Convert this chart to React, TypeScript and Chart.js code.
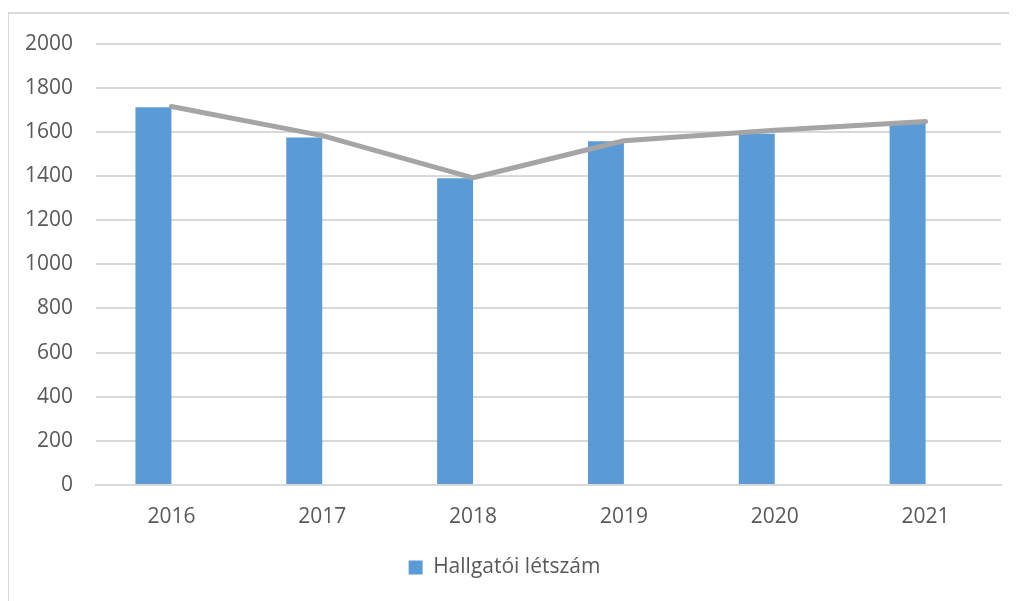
import React, { useEffect, useRef } from "react";
import { Chart, registerables } from "chart.js";

Chart.register(...registerables);

const categories = ["2016", "2017", "2018", "2019", "2020", "2021"];
const barLabel = "Hallgatói létszám";
const barValues = [1712, 1575, 1390, 1557, 1592, 1637];
const lineValues = [1715, 1583, 1392, 1560, 1607, 1647];
const yTicks = [0, 200, 400, 600, 800, 1000, 1200, 1400, 1600, 1800, 2000];

export default function App() {
  const ref = useRef<HTMLCanvasElement | null>(null);

  useEffect(() => {
    if (!ref.current) return;
    const font = { family: "'Open Sans', 'Noto Sans', sans-serif", size: 21 };
    const chart = new Chart(ref.current, {
      type: "bar",
      data: {
        labels: categories,
        datasets: [
          {
            type: "line",
            label: "trend",
            data: lineValues,
            borderColor: "#A5A5A5",
            borderWidth: 5,
            pointRadius: 0,
            borderCapStyle: "round",
            borderJoinStyle: "round",
            tension: 0,
            order: 0,
          } as any,
          {
            type: "bar",
            label: barLabel,
            data: barValues,
            backgroundColor: "#5B9BD5",
            barPercentage: 1,
            categoryPercentage: 0.477,
            order: 1,
          },
          {
            type: "bar",
            label: "__hidden",
            data: categories.map(() => null),
            backgroundColor: "rgba(0,0,0,0)",
            barPercentage: 1,
            categoryPercentage: 0.477,
            order: 2,
          },
        ],
      },
      options: {
        animation: false,
        responsive: false,
        maintainAspectRatio: false,
        layout: { padding: { left: 0, right: 16, top: 34, bottom: 13 } },
        plugins: {
          tooltip: { enabled: false },
          legend: {
            position: "bottom",
            labels: {
              color: "#595959",
              font,
              boxWidth: 14,
              boxHeight: 14,
              padding: 10,
              filter: (item: any) => item.text === barLabel,
            },
          },
        },
        scales: {
          x: {
            grid: { display: false, drawTicks: false },
            border: { display: true, color: "#D9D9D9", width: 2 },
            ticks: { color: "#595959", font, padding: 19 },
            afterFit: (s: any) => {
              s.height = 62;
            },
          },
          y: {
            min: 0,
            max: 2000,
            afterBuildTicks: (s: any) => {
              s.ticks = yTicks.map((v) => ({ value: v }));
            },
            grid: { color: "#D9D9D9", lineWidth: 2, drawTicks: false },
            border: { display: false },
            ticks: {
              color: "#595959",
              font,
              padding: 23,
              callback: (v: any) => String(v),
            },
            afterFit: (s: any) => {
              s.width = 88;
            },
          },
        },
      },
    });
    return () => chart.destroy();
  }, []);

  return (
    <div style={{ position: "relative", width: 1009, height: 593, overflow: "hidden" }}>
      <div
        style={{
          position: "absolute",
          left: -1,
          top: 4,
          width: 1200,
          height: 800,
          borderLeft: "2px solid #D9D9D9",
          borderTop: "2px solid #D9D9D9",
        }}
      />
      <canvas
        ref={ref}
        width={1009}
        height={593}
        style={{ position: "absolute", left: 0, top: 0, width: 1009, height: 593 }}
      />
    </div>
  );
}
